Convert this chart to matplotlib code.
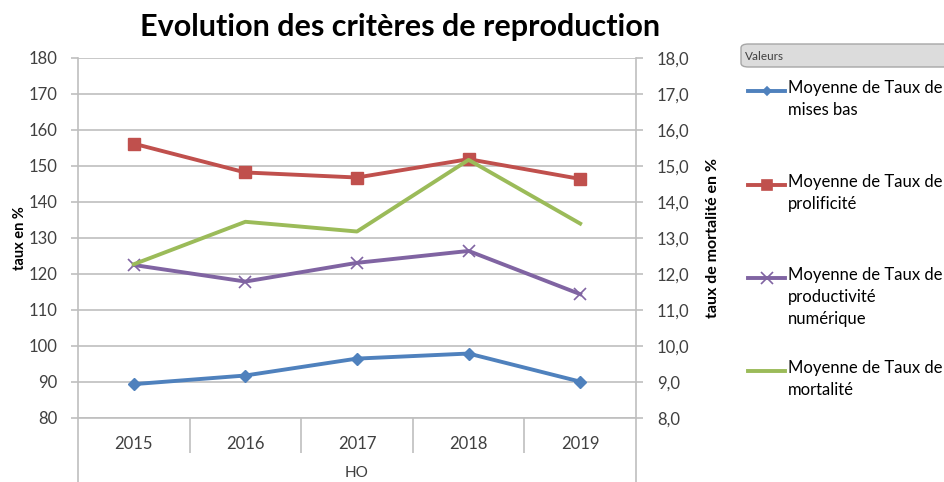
import matplotlib.pyplot as plt
import numpy as np
from matplotlib.lines import Line2D
from matplotlib.patches import FancyBboxPatch

# Data
years = ["2015", "2016", "2017", "2018", "2019"]
group_label = "HO"
mises_bas = [89.4, 91.8, 96.5, 97.9, 90.1]
prolificite = [156.2, 148.2, 146.8, 151.9, 146.4]
productivite = [122.5, 117.9, 123.1, 126.4, 114.4]
mortalite = [12.27, 13.45, 13.18, 15.17, 13.40]  # right axis

left_ticks = np.arange(80, 181, 10)
right_ticks = np.arange(8, 18.1, 1)

labels = ["Moyenne de Taux de\nmises bas",
          "Moyenne de Taux de\nprolificité",
          "Moyenne de Taux de\nproductivité\nnumérique",
          "Moyenne de Taux de\nmortalité"]
colors = ["#4F81BD", "#C0504D", "#8064A2", "#9BBB59"]

plt.rcParams['font.family'] = ['Lato', 'DejaVu Sans']
txt = "#404040"
grid = "#BFBFBF"

fig = plt.figure(figsize=(9.44, 4.82), dpi=100)
ax = fig.add_axes([0.0826, 0.1328, 0.5911, 0.7469])
ax2 = ax.twinx()

x = np.arange(len(years))
ax.plot(x, mises_bas, color=colors[0], lw=2.8, marker="D", ms=6.5, zorder=3)
ax.plot(x, prolificite, color=colors[1], lw=2.8, marker="s", ms=8.5, zorder=3)
ax.plot(x, productivite, color=colors[2], lw=2.8, marker="x", ms=9, mew=1.2, zorder=3)
ax2.plot(x, mortalite, color=colors[3], lw=2.8, zorder=3)

ax.set_xlim(-0.5, len(years) - 0.5)
ax.set_ylim(80, 180)
ax2.set_ylim(8, 18)
ax.set_yticks(left_ticks)
ax.set_yticklabels([str(int(v)) for v in left_ticks])
ax2.set_yticks(right_ticks)
ax2.set_yticklabels([f"{v:.1f}".replace(".", ",") for v in right_ticks])
ax.yaxis.grid(True, color=grid, lw=1.2)
ax.set_axisbelow(True)

# category axis: labels at centres, separators at boundaries
ax.set_xticks(x)
ax.set_xticklabels(years, fontsize=12, color=txt)
ax.tick_params(axis="x", which="major", length=0, pad=13)
ax.set_xticks(np.arange(0.5, len(years) - 1, 1), minor=True)
ax.tick_params(axis="x", which="minor", length=25, width=1.2, color=grid, direction="out")

ax.tick_params(axis="y", length=5, width=1.2, color=grid, labelsize=12, labelcolor=txt, pad=10)
ax2.tick_params(axis="y", length=5, width=1.2, color=grid, labelsize=12, labelcolor=txt, pad=10)

for a in (ax, ax2):
    for s in a.spines.values():
        s.set_visible(False)
# axis lines running down to the bottom edge
for xa in (0, 1):
    ax.add_line(Line2D([xa, xa], [-0.2, 1], transform=ax.transAxes, color=grid,
                       lw=1.2, clip_on=False, zorder=1))
ax.add_line(Line2D([0, 1], [0, 0], transform=ax.transAxes, color=grid,
                   lw=1.2, clip_on=False, zorder=1))

ax.text(0.5, -0.152, group_label, transform=ax.transAxes, ha="center", va="center",
        fontsize=11, color=txt)

ax.set_ylabel("taux en %", fontsize=10.5, fontweight="bold", labelpad=1)
ax2.set_ylabel("taux de mortalité en %", fontsize=11.5, fontweight="bold", labelpad=12)

fig.text(0.424, 0.945, "Evolution des critères de reproduction", ha="center", va="center",
         fontsize=22, fontweight="bold", color="#000000")

# legend header
hdr = FancyBboxPatch((741 / 944, 1 - 67 / 482), 210 / 944, 23 / 482,
                     boxstyle="round,pad=0,rounding_size=0.008", transform=fig.transFigure,
                     facecolor="#DCDCDC", edgecolor="#A6A6A6", lw=1)
fig.patches.append(hdr)
fig.text(745 / 944, 1 - 56 / 482, "Valeurs", fontsize=8.5, color=txt, va="center")

# legend entries with fixed slots
markers = ["D", "s", "x", None]
msizes = [4.5, 6.5, 8, 0]
slot_y = [91, 185, 278, 371]
for lab, c, m, msz, yy in zip(labels, colors, markers, msizes, slot_y):
    yf = 1 - yy / 482
    fig.add_artist(Line2D([748 / 944, 785 / 944], [yf, yf], color=c, lw=2.8,
                          transform=fig.transFigure))
    if m:
        fig.add_artist(Line2D([766.5 / 944], [yf], color=c, marker=m, ms=msz, mew=1.2,
                              transform=fig.transFigure))
    fig.text(788 / 944, yf + 11 / 482, lab, fontsize=12, color="#000000", va="top",
             linespacing=1.45)

fig.savefig("out.png", dpi=100)
